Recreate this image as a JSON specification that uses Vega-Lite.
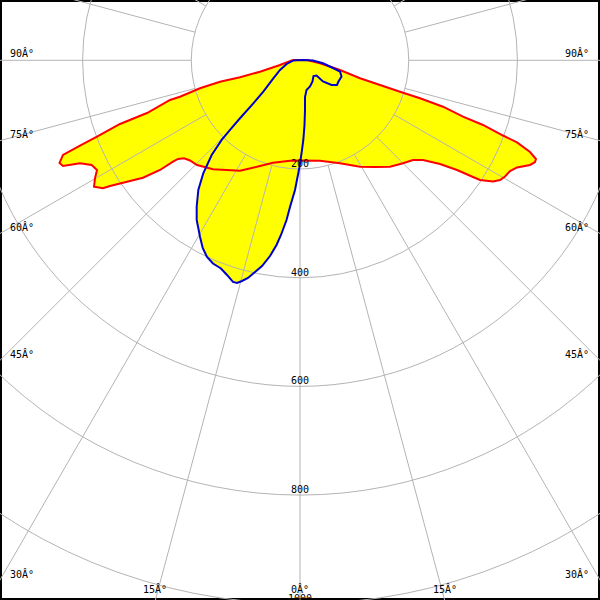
{
  "$schema": "https://vega.github.io/schema/vega-lite/v6.json",
  "width": 600,
  "height": 600,
  "autosize": "none",
  "padding": 0,
  "background": "white",
  "config": {"view": {"stroke": "black", "strokeWidth": 4}},
  "datasets": {
    "red": [
      {"i":1,"x":-12.9,"y":-0.6},{"i":2,"x":12.9,"y":-0.6},{"i":3,"x":36.8,"y":5.5},{"i":4,"x":73.6,"y":17.8},
      {"i":5,"x":110.4,"y":33.1},{"i":6,"x":147.2,"y":45.4},{"i":7,"x":184,"y":57.8},{"i":8,"x":220.8,"y":69.9},
      {"i":9,"x":263.1,"y":85.4},{"i":10,"x":299.9,"y":103.8},{"i":11,"x":336.7,"y":119},{"i":12,"x":373.5,"y":138.4},
      {"i":13,"x":399.3,"y":151.2},{"i":14,"x":423.2,"y":168.7},{"i":15,"x":434.2,"y":181.6},{"i":16,"x":432.4,"y":187.1},
      {"i":17,"x":423.2,"y":192.6},{"i":18,"x":399.3,"y":197.2},{"i":19,"x":386.4,"y":203.7},{"i":20,"x":377.2,"y":213.8},
      {"i":21,"x":368,"y":220.2},{"i":22,"x":355.1,"y":223},{"i":23,"x":331.2,"y":220.2},{"i":24,"x":318.3,"y":214.7},
      {"i":25,"x":288.9,"y":201.8},{"i":26,"x":257.6,"y":190.8},{"i":27,"x":226.3,"y":183.4},{"i":28,"x":207.9,"y":183.4},
      {"i":29,"x":189.5,"y":189.5},{"i":30,"x":165.6,"y":195.8},{"i":31,"x":138,"y":196.3},{"i":32,"x":110.4,"y":195.8},
      {"i":33,"x":73.6,"y":189.5},{"i":34,"x":36.8,"y":184.7},{"i":35,"x":0,"y":184.4},{"i":36,"x":-18.4,"y":184.7},
      {"i":37,"x":-49.7,"y":188.4},{"i":38,"x":-73.6,"y":194.5},{"i":39,"x":-110.4,"y":203.1},{"i":40,"x":-160.1,"y":200.6},
      {"i":41,"x":-189.5,"y":192.6},{"i":42,"x":-202.4,"y":184.4},{"i":43,"x":-213.4,"y":180.3},{"i":44,"x":-224.5,"y":181.6},
      {"i":45,"x":-233.7,"y":186.6},{"i":46,"x":-257.6,"y":201.8},{"i":47,"x":-288.9,"y":216},{"i":48,"x":-318.3,"y":223.4},
      {"i":49,"x":-349.6,"y":231.3},{"i":50,"x":-362.5,"y":235.5},{"i":51,"x":-379,"y":232.6},{"i":52,"x":-377.2,"y":217.1},
      {"i":53,"x":-373.5,"y":201.8},{"i":54,"x":-383.3,"y":192.6},{"i":55,"x":-404.8,"y":189.5},{"i":56,"x":-436.1,"y":194.5},
      {"i":57,"x":-442.5,"y":189},{"i":58,"x":-436.1,"y":174.2},{"i":59,"x":-404.8,"y":156.8},{"i":60,"x":-373.5,"y":140.6},
      {"i":61,"x":-331.2,"y":117.2},{"i":62,"x":-281.5,"y":97},{"i":63,"x":-239.2,"y":73},{"i":64,"x":-220.8,"y":67},
      {"i":65,"x":-184,"y":51.5},{"i":66,"x":-147.2,"y":39.4},{"i":67,"x":-110.4,"y":31.3},{"i":68,"x":-73.6,"y":21},
      {"i":69,"x":-36.8,"y":8.6},{"i":70,"x":-12.9,"y":-0.6}
    ],
    "blue": [
      {"i":1,"x":-12.9,"y":0.4},{"i":2,"x":-24.5,"y":6.8},{"i":3,"x":-36.8,"y":17.8},{"i":4,"x":-49.1,"y":33.1},
      {"i":5,"x":-67.5,"y":57.8},{"i":6,"x":-85.9,"y":79.1},{"i":7,"x":-110.4,"y":106.7},{"i":8,"x":-128.8,"y":128.2},
      {"i":9,"x":-144.1,"y":146.6},{"i":10,"x":-162.5,"y":174.2},{"i":11,"x":-178,"y":207.9},{"i":12,"x":-187.1,"y":238.6},
      {"i":13,"x":-190.1,"y":269.4},{"i":14,"x":-190.1,"y":293.8},{"i":15,"x":-184,"y":324.6},{"i":16,"x":-179,"y":345.4},
      {"i":17,"x":-171.1,"y":361.9},{"i":18,"x":-160.1,"y":373.9},{"i":19,"x":-145.4,"y":383.1},{"i":20,"x":-134.3,"y":395},
      {"i":21,"x":-123.3,"y":407.9},{"i":22,"x":-115.9,"y":409.8},{"i":23,"x":-106.7,"y":406.1},{"i":24,"x":-95.7,"y":400.6},
      {"i":25,"x":-82.8,"y":389.5},{"i":26,"x":-69.9,"y":378.5},{"i":27,"x":-55.2,"y":360.1},{"i":28,"x":-43.2,"y":339.8},
      {"i":29,"x":-35,"y":321.4},{"i":30,"x":-24.8,"y":293.8},{"i":31,"x":-18.4,"y":269.9},{"i":32,"x":-9.2,"y":238.6},
      {"i":33,"x":-0.9,"y":196.3},{"i":34,"x":3.7,"y":165},{"i":35,"x":6.1,"y":146.6},{"i":36,"x":8.3,"y":119},
      {"i":37,"x":9.2,"y":91.4},{"i":38,"x":9.2,"y":67.5},{"i":39,"x":12,"y":54.6},{"i":40,"x":18.4,"y":48.2},
      {"i":41,"x":23,"y":39},{"i":42,"x":24.8,"y":28.9},{"i":43,"x":30.4,"y":28},{"i":44,"x":42.3,"y":39},
      {"i":45,"x":58,"y":45.4},{"i":46,"x":68.1,"y":45.4},{"i":47,"x":70.8,"y":39},{"i":48,"x":76.4,"y":29.8},
      {"i":49,"x":73.6,"y":20.6},{"i":50,"x":60.7,"y":14.2},{"i":51,"x":42.3,"y":5.5},{"i":52,"x":23.9,"y":0.4},
      {"i":53,"x":5.5,"y":-0.6},{"i":54,"x":-12.9,"y":0.4}
    ],
    "rings": [{"ring":200},{"ring":400},{"ring":600},{"ring":800},{"ring":1000}],
    "spokes": [
      {"angle":0,"x1":0,"y1":200,"x2":0,"y2":1400},
      {"angle":15,"x1":51.76,"y1":193.19,"x2":362.35,"y2":1352.3},
      {"angle":30,"x1":100,"y1":173.21,"x2":700,"y2":1212.4},
      {"angle":45,"x1":141.42,"y1":141.42,"x2":989.95,"y2":989.95},
      {"angle":60,"x1":173.21,"y1":100,"x2":1212.4,"y2":700},
      {"angle":75,"x1":193.19,"y1":51.76,"x2":1352.3,"y2":362.35},
      {"angle":90,"x1":200,"y1":0,"x2":1400,"y2":0},
      {"angle":105,"x1":193.19,"y1":-51.76,"x2":1352.3,"y2":-362.35},
      {"angle":120,"x1":173.21,"y1":-100,"x2":1212.4,"y2":-700},
      {"angle":135,"x1":141.42,"y1":-141.42,"x2":989.95,"y2":-989.95},
      {"angle":150,"x1":100,"y1":-173.21,"x2":700,"y2":-1212.4},
      {"angle":165,"x1":51.76,"y1":-193.19,"x2":362.35,"y2":-1352.3},
      {"angle":180,"x1":0,"y1":-200,"x2":0,"y2":-1400},
      {"angle":-15,"x1":-51.76,"y1":193.19,"x2":-362.35,"y2":1352.3},
      {"angle":-30,"x1":-100,"y1":173.21,"x2":-700,"y2":1212.4},
      {"angle":-45,"x1":-141.42,"y1":141.42,"x2":-989.95,"y2":989.95},
      {"angle":-60,"x1":-173.21,"y1":100,"x2":-1212.4,"y2":700},
      {"angle":-75,"x1":-193.19,"y1":51.76,"x2":-1352.3,"y2":362.35},
      {"angle":-90,"x1":-200,"y1":0,"x2":-1400,"y2":0},
      {"angle":-105,"x1":-193.19,"y1":-51.76,"x2":-1352.3,"y2":-362.35},
      {"angle":-120,"x1":-173.21,"y1":-100,"x2":-1212.4,"y2":-700},
      {"angle":-135,"x1":-141.42,"y1":-141.42,"x2":-989.95,"y2":-989.95},
      {"angle":-150,"x1":-100,"y1":-173.21,"x2":-700,"y2":-1212.4},
      {"angle":-165,"x1":-51.76,"y1":-193.19,"x2":-362.35,"y2":-1352.3}
    ],
    "labels": [
      {"label":"90Â°","x":-533.6,"y":-6.1,"side":"left"},
      {"label":"75Â°","x":-533.6,"y":143,"side":"left"},
      {"label":"60Â°","x":-533.6,"y":314,"side":"left"},
      {"label":"45Â°","x":-533.6,"y":547.6,"side":"left"},
      {"label":"30Â°","x":-533.6,"y":952.6,"side":"left"},
      {"label":"90Â°","x":531.8,"y":-6.1,"side":"right"},
      {"label":"75Â°","x":531.8,"y":143,"side":"right"},
      {"label":"60Â°","x":531.8,"y":314,"side":"right"},
      {"label":"45Â°","x":531.8,"y":547.6,"side":"right"},
      {"label":"30Â°","x":531.8,"y":952.6,"side":"right"},
      {"label":"15Â°","x":-266.8,"y":980,"side":"center"},
      {"label":"0Â°","x":0,"y":980,"side":"center"},
      {"label":"15Â°","x":266.8,"y":980,"side":"center"}
    ]
  },
  "layer": [
    {
      "data": {"name": "red"},
      "mark": {"type": "line", "fill": "#ffff00", "strokeOpacity": 0, "clip": true},
      "encoding": {
        "x": {"field": "x", "type": "quantitative", "scale": {"domain": [-552, 552], "nice": false, "zero": false}, "axis": null},
        "y": {"field": "y", "type": "quantitative", "scale": {"domain": [-110.95, 993.05], "reverse": true, "nice": false, "zero": false}, "axis": null},
        "order": {"field": "i", "type": "quantitative"}
      }
    },
    {
      "data": {"name": "blue"},
      "mark": {"type": "line", "fill": "#ffff00", "strokeOpacity": 0, "clip": true},
      "encoding": {
        "x": {"field": "x", "type": "quantitative", "scale": {"domain": [-552, 552], "nice": false, "zero": false}, "axis": null},
        "y": {"field": "y", "type": "quantitative", "scale": {"domain": [-110.95, 993.05], "reverse": true, "nice": false, "zero": false}, "axis": null},
        "order": {"field": "i", "type": "quantitative"}
      }
    },
    {
      "data": {"name": "rings"},
      "mark": {"type": "point", "shape": "circle", "filled": false, "stroke": "#b4b4b4", "strokeWidth": 1, "opacity": 1, "clip": true},
      "encoding": {
        "x": {"datum": 0, "type": "quantitative", "scale": {"domain": [-552, 552], "nice": false, "zero": false}, "axis": null},
        "y": {"datum": 0, "type": "quantitative", "scale": {"domain": [-110.95, 993.05], "reverse": true, "nice": false, "zero": false}, "axis": null},
        "size": {"field": "ring", "type": "quantitative", "scale": {"type": "pow", "exponent": 2, "domain": [0, 1000], "range": [0, 1181475]}, "legend": null}
      }
    },
    {
      "data": {"name": "spokes"},
      "mark": {"type": "rule", "stroke": "#b4b4b4", "strokeWidth": 1, "clip": true},
      "encoding": {
        "x": {"field": "x1", "type": "quantitative", "scale": {"domain": [-552, 552], "nice": false, "zero": false}, "axis": null},
        "y": {"field": "y1", "type": "quantitative", "scale": {"domain": [-110.95, 993.05], "reverse": true, "nice": false, "zero": false}, "axis": null},
        "x2": {"field": "x2"},
        "y2": {"field": "y2"}
      }
    },
    {
      "data": {"name": "red"},
      "mark": {"type": "line", "stroke": "#ff0000", "strokeWidth": 2, "clip": true},
      "encoding": {
        "x": {"field": "x", "type": "quantitative", "scale": {"domain": [-552, 552], "nice": false, "zero": false}, "axis": null},
        "y": {"field": "y", "type": "quantitative", "scale": {"domain": [-110.95, 993.05], "reverse": true, "nice": false, "zero": false}, "axis": null},
        "order": {"field": "i", "type": "quantitative"}
      }
    },
    {
      "data": {"name": "blue"},
      "mark": {"type": "line", "stroke": "#0000cc", "strokeWidth": 2, "clip": true},
      "encoding": {
        "x": {"field": "x", "type": "quantitative", "scale": {"domain": [-552, 552], "nice": false, "zero": false}, "axis": null},
        "y": {"field": "y", "type": "quantitative", "scale": {"domain": [-110.95, 993.05], "reverse": true, "nice": false, "zero": false}, "axis": null},
        "order": {"field": "i", "type": "quantitative"}
      }
    },
    {
      "data": {"name": "rings"},
      "mark": {"type": "text", "align": "center", "baseline": "alphabetic", "dy": -2, "font": "DejaVu Sans Mono", "fontSize": 10, "fill": "black"},
      "encoding": {
        "x": {"datum": 0, "type": "quantitative", "scale": {"domain": [-552, 552], "nice": false, "zero": false}, "axis": null},
        "y": {"field": "ring", "type": "quantitative", "scale": {"domain": [-110.95, 993.05], "reverse": true, "nice": false, "zero": false}, "axis": null},
        "text": {"field": "ring", "type": "nominal"}
      }
    },
    {
      "data": {"name": "labels"},
      "transform": [{"filter": "datum.side === 'left'"}],
      "mark": {"type": "text", "align": "left", "baseline": "alphabetic", "font": "DejaVu Sans Mono", "fontSize": 10, "fill": "black"},
      "encoding": {
        "x": {"field": "x", "type": "quantitative", "scale": {"domain": [-552, 552], "nice": false, "zero": false}, "axis": null},
        "y": {"field": "y", "type": "quantitative", "scale": {"domain": [-110.95, 993.05], "reverse": true, "nice": false, "zero": false}, "axis": null},
        "text": {"field": "label", "type": "nominal"}
      }
    },
    {
      "data": {"name": "labels"},
      "transform": [{"filter": "datum.side === 'right'"}],
      "mark": {"type": "text", "align": "right", "baseline": "alphabetic", "font": "DejaVu Sans Mono", "fontSize": 10, "fill": "black"},
      "encoding": {
        "x": {"field": "x", "type": "quantitative", "scale": {"domain": [-552, 552], "nice": false, "zero": false}, "axis": null},
        "y": {"field": "y", "type": "quantitative", "scale": {"domain": [-110.95, 993.05], "reverse": true, "nice": false, "zero": false}, "axis": null},
        "text": {"field": "label", "type": "nominal"}
      }
    },
    {
      "data": {"name": "labels"},
      "transform": [{"filter": "datum.side === 'center'"}],
      "mark": {"type": "text", "align": "center", "baseline": "alphabetic", "font": "DejaVu Sans Mono", "fontSize": 10, "fill": "black"},
      "encoding": {
        "x": {"field": "x", "type": "quantitative", "scale": {"domain": [-552, 552], "nice": false, "zero": false}, "axis": null},
        "y": {"field": "y", "type": "quantitative", "scale": {"domain": [-110.95, 993.05], "reverse": true, "nice": false, "zero": false}, "axis": null},
        "text": {"field": "label", "type": "nominal"}
      }
    }
  ]
}
